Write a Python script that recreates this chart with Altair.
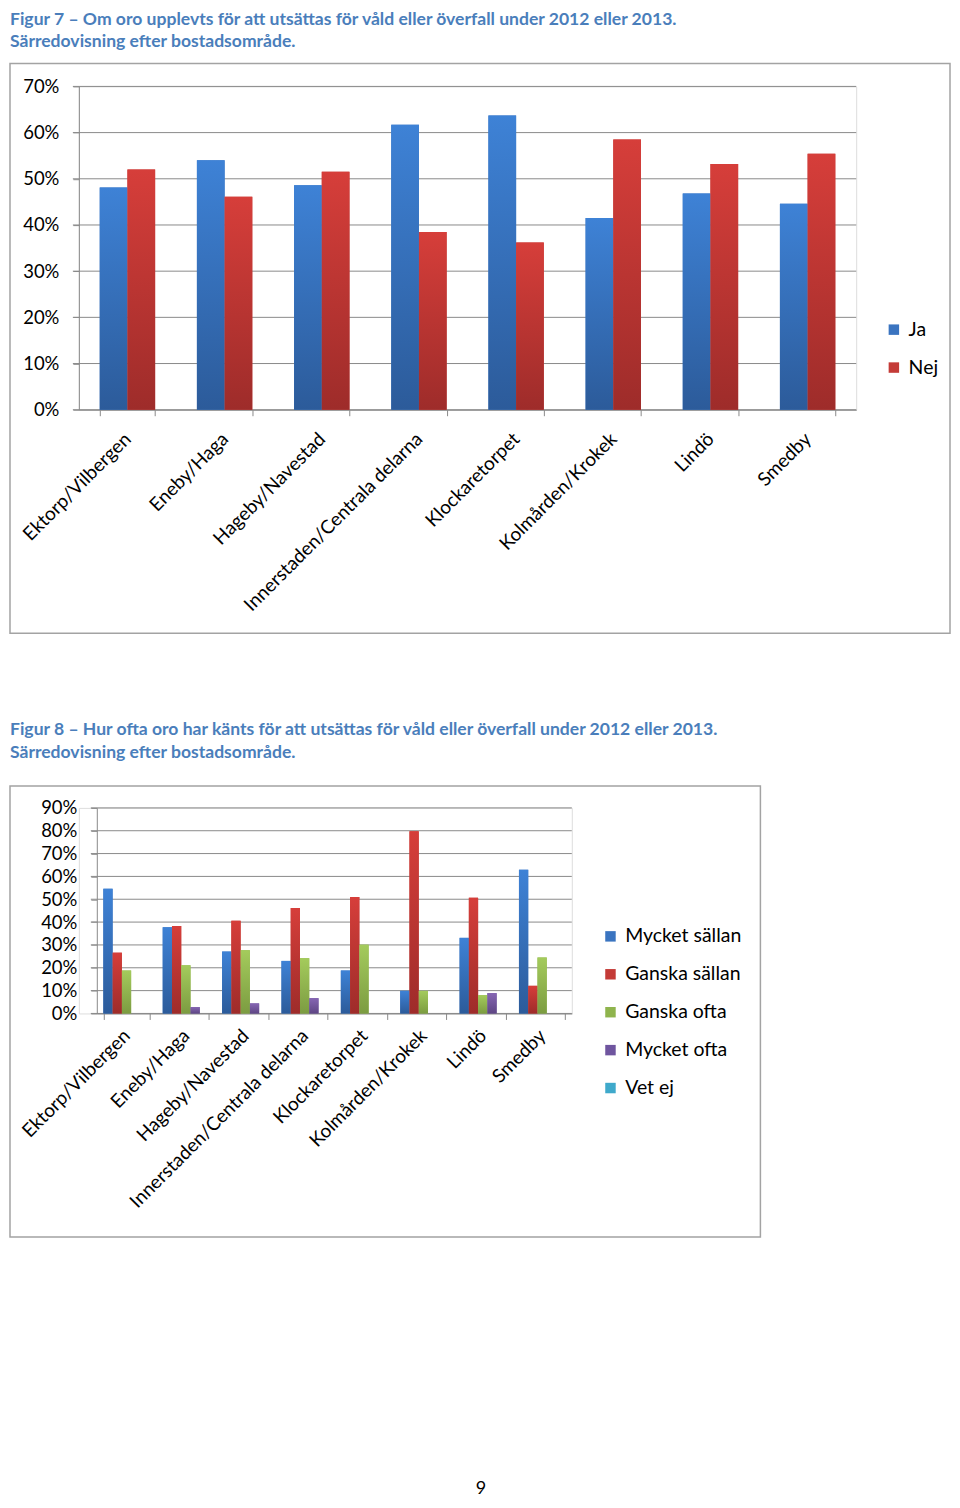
import altair as alt
import pandas as pd

# ---------------- data ----------------
omraden = ["Ektorp/Vilbergen", "Eneby/Haga", "Hageby/Navestad",
           "Innerstaden/Centrala delarna", "Klockaretorpet",
           "Kolmården/Krokek", "Lindö", "Smedby"]

f7_serier = ["Ja", "Nej"]
f7_ja = [0.481, 0.540, 0.486, 0.617, 0.637, 0.415, 0.468, 0.446]
f7_nej = [0.520, 0.461, 0.515, 0.385, 0.362, 0.585, 0.532, 0.554]

f8_serier = ["Mycket sällan", "Ganska sällan", "Ganska ofta", "Mycket ofta", "Vet ej"]
f8_mycket_sallan = [0.546, 0.377, 0.271, 0.230, 0.188, 0.099, 0.331, 0.629]
f8_ganska_sallan = [0.266, 0.383, 0.406, 0.462, 0.510, 0.798, 0.507, 0.121]
f8_ganska_ofta = [0.188, 0.211, 0.277, 0.242, 0.301, 0.099, 0.080, 0.245]
f8_mycket_ofta = [0.0, 0.028, 0.044, 0.067, 0.0, 0.0, 0.089, 0.0]
f8_vet_ej = [0.0, 0.0, 0.0, 0.0, 0.0, 0.0, 0.0, 0.0]

f7_yticks = [0.0, 0.1, 0.2, 0.3, 0.4, 0.5, 0.6, 0.7]
f8_yticks = [0.0, 0.1, 0.2, 0.3, 0.4, 0.5, 0.6, 0.7, 0.8, 0.9]

titel7 = ["Figur 7 – Om oro upplevts för att utsättas för våld eller överfall under 2012 eller 2013.",
          "Särredovisning efter bostadsområde."]
titel8 = ["Figur 8 – Hur ofta oro har känts för att utsättas för våld eller överfall under 2012 eller 2013.",
          "Särredovisning efter bostadsområde."]
sidnummer = "9"

# ---------------- style ----------------
FONT = "Lato"
GRID = "#8a8a8a"
FRAME = "#a3a3a3"
TITLE_COLOR = "#4a7ebb"

solid = {"blue": "#3a74c0", "red": "#c43b37", "green": "#8fb44d",
         "purple": "#6f559f", "cyan": "#3fa9cb"}
grad_stops = {"blue": ("#3e82d6", "#2c5b9a"), "red": ("#d63e3a", "#9e2c2a"),
              "green": ("#a4cb5c", "#7c9c41"), "purple": ("#8666b3", "#5e4684"),
              "cyan": ("#4cbfe0", "#2f8fae")}


def grad(name):
    a, b = grad_stops[name]
    return {"gradient": "linear", "x1": 0, "y1": 0, "x2": 0, "y2": 1,
            "stops": [{"offset": 0, "color": a}, {"offset": 1, "color": b}]}


def long_df(series_names, series_values):
    rows = []
    for s, vals in zip(series_names, series_values):
        for o, v in zip(omraden, vals):
            rows.append({"omrade": o, "serie": s, "andel": v})
    return pd.DataFrame(rows)


def figure(df, serier, colornames, width, height, x_start, ymax, yticks, pad_inner,
           xlabel_pad, legend_x, legend_y, row_pad, frame_box, title_lines, title_y,
           extra=None):
    x_axis = alt.Axis(title=None, labelAngle=-45, labelAlign="right", labelBaseline="middle",
                      labelFont=FONT, labelFontSize=19, labelColor="black",
                      labelPadding=xlabel_pad, labelLimit=0, labelOverlap=False,
                      tickBand="extent", tickSize=6, tickColor=GRID, domainColor=GRID,
                      grid=False)
    y_axis = alt.Axis(title=None, format=".0%", values=yticks, labelFont=FONT,
                      labelFontSize=18.5, labelColor="black", labelPadding=14,
                      tickSize=6, tickColor=GRID, domainColor=GRID, offset=-x_start,
                      grid=False)
    y_scale = alt.Scale(domain=[0, ymax], nice=False)
    base = alt.Chart(df).encode(
        x=alt.X("omrade:N", sort=omraden,
                scale=alt.Scale(domain=omraden, range=[x_start, width],
                                paddingInner=pad_inner, paddingOuter=pad_inner / 2),
                axis=x_axis),
        xOffset=alt.XOffset("serie:N", sort=serier,
                            scale=alt.Scale(domain=serier, paddingInner=0, paddingOuter=0)),
        y=alt.Y("andel:Q", scale=y_scale, axis=y_axis),
    )
    legend_layer = base.mark_bar(strokeWidth=0).encode(
        color=alt.Color("serie:N",
                        scale=alt.Scale(domain=serier, range=[solid[c] for c in colornames]),
                        legend=alt.Legend(title=None, orient="none", legendX=legend_x,
                                          legendY=legend_y, symbolType="square",
                                          symbolSize=110, symbolStrokeWidth=0,
                                          labelFont=FONT, labelFontSize=19.5,
                                          labelColor="black", rowPadding=row_pad,
                                          labelOffset=5, padding=0))
    )
    rule = alt.when(alt.datum.serie == serier[0]).then(alt.value(grad(colornames[0])))
    for s, c in zip(serier[1:-1], colornames[1:-1]):
        rule = rule.when(alt.datum.serie == s).then(alt.value(grad(c)))
    fill = rule.otherwise(alt.value(grad(colornames[-1])))
    grad_layer = base.mark_bar(strokeWidth=0).encode(fill=fill)

    grid = alt.Chart(pd.DataFrame({"andel": yticks})).mark_rule(
        color=GRID, strokeWidth=1).encode(
        y=alt.Y("andel:Q", scale=y_scale, axis=y_axis),
        x=alt.value(x_start - 6), x2=alt.value(width))

    one = pd.DataFrame({"a": [0]})
    x0, x1, y0, y1 = frame_box
    frame = alt.Chart(one).mark_rect(fillOpacity=0, stroke=FRAME, strokeWidth=1.5).encode(
        x=alt.value(x0), x2=alt.value(x1), y=alt.value(y0), y2=alt.value(y1))
    layers = [frame, grid]
    for i, line in enumerate(title_lines):
        layers.append(alt.Chart(one).mark_text(
            align="left", baseline="middle", font=FONT, fontSize=17.6,
            fontWeight="bold", color=TITLE_COLOR).encode(
            x=alt.value(x0), y=alt.value(title_y + 23 * i), text=alt.value(line)))
    layers += [legend_layer, grad_layer]
    if extra is not None:
        layers.append(extra)
    return alt.layer(*layers).properties(width=width, height=height)


df7 = long_df(f7_serier, [f7_ja, f7_nej])
df8 = long_df(f8_serier, [f8_mycket_sallan, f8_ganska_sallan, f8_ganska_ofta,
                          f8_mycket_ofta, f8_vet_ej])

# both plot areas start at page x = 77; figure 8 draws its axis 18 px further right
chart7 = figure(df7, f7_serier, ["blue", "red"], 779, 324, 0, 0.7, f7_yticks, 0.43,
                20, 807, 234, 17, (-69, 873, -23, 548), titel7, -67)

page_no = alt.Chart(pd.DataFrame({"a": [0]})).mark_text(
    align="center", baseline="middle", font=FONT, fontSize=18, color="black").encode(
    x=alt.value(403), y=alt.value(683), text=alt.value(sidnummer))

chart8 = figure(df8, f8_serier, ["blue", "red", "green", "purple", "cyan"], 494, 206, 18,
                0.9, f8_yticks, 0.22, 13, 523, 119, 17, (-69, 683, -22, 430), titel8, -78,
                extra=page_no)

chart = alt.vconcat(chart7, chart8, spacing=85).resolve_scale(
    x="independent", y="independent", xOffset="independent", color="independent"
).properties(padding=0).configure_view(strokeWidth=0).configure(background="white")

chart.save("out.html", embed_options={"renderer": "svg", "actions": False})
